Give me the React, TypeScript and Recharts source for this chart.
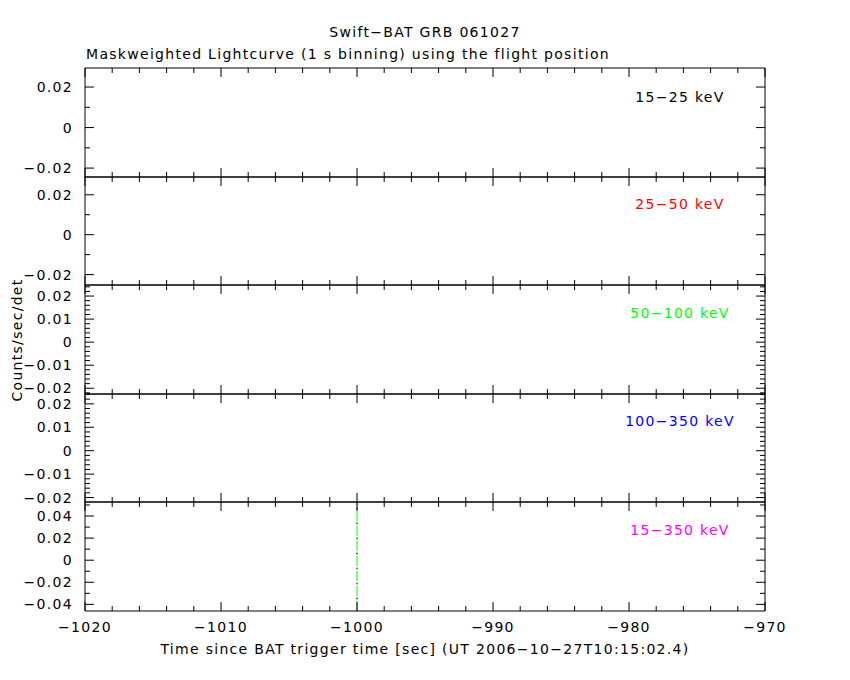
import React from "react";
import { LineChart, Line, XAxis, YAxis, ReferenceLine } from "recharts";

// ---- data ----
const title = "Swift\u2212BAT GRB 061027";
const subtitle = "Maskweighted Lightcurve (1 s binning) using the flight position";
const xTitle = "Time since BAT trigger time [sec] (UT 2006\u221210\u221227T10:15:02.4)";
const yTitle = "Counts/sec/det";

const xDomain = [-1020, -970];
const xMajorTicks = [-1020, -1010, -1000, -990, -980, -970];
const xMinorTicks = [
  -1018, -1016, -1014, -1012, -1008, -1006, -1004, -1002, -998, -996, -994, -992,
  -988, -986, -984, -982, -978, -976, -974, -972,
];
const triggerMarker = -1000;

// time span covered by each light curve; no rate samples are visible in the reference
const timeSpan = [-1020, -970];
const band1Rates: (number | null)[] = [null, null];
const band2Rates: (number | null)[] = [null, null];
const band3Rates: (number | null)[] = [null, null];
const band4Rates: (number | null)[] = [null, null];
const band5Rates: (number | null)[] = [null, null];

const bandLabels = ["15\u221225 keV", "25\u221250 keV", "50\u2212100 keV", "100\u2212350 keV", "15\u2212350 keV"];
const bandColors = ["#000000", "#ff0000", "#00ff00", "#0000ff", "#ff00ff"];

const yDomains = [
  [-0.0244, 0.0294],
  [-0.0252, 0.0289],
  [-0.0225, 0.0248],
  [-0.0219, 0.0242],
  [-0.046, 0.0527],
];
const yMajorTicks = [
  [-0.02, 0, 0.02],
  [-0.02, 0, 0.02],
  [-0.02, -0.01, 0, 0.01, 0.02],
  [-0.02, -0.01, 0, 0.01, 0.02],
  [-0.04, -0.02, 0, 0.02, 0.04],
];
const yMinorTicks = [
  [-0.01, 0.01],
  [-0.01, 0.01],
  [-0.022, -0.018, -0.016, -0.014, -0.012, -0.008, -0.006, -0.004, -0.002, 0.002, 0.004, 0.006, 0.008, 0.012, 0.014, 0.016, 0.018, 0.022, 0.024],
  [-0.018, -0.016, -0.014, -0.012, -0.008, -0.006, -0.004, -0.002, 0.002, 0.004, 0.006, 0.008, 0.012, 0.014, 0.016, 0.018, 0.022, 0.024],
  [-0.03, -0.01, 0.01, 0.03, 0.05],
];

// ---- layout ----
const W = 850;
const H = 680;
const PLOT_LEFT = 85;
const PLOT_RIGHT = 765;
const panelEdges = [68, 177, 285, 394, 502, 611];
const FONT = "'DejaVu Sans', sans-serif";
const FS = 14;
const LS = 1.3;

const isIn = (arr: number[], v: number) => arr.some((a) => Math.abs(a - v) < 1e-9);
const fmt = (v: number) => {
  if (Math.abs(v) < 1e-12) return "0";
  const s = String(Math.round(Math.abs(v) * 1e6) / 1e6);
  return (v < 0 ? "\u2212" : "") + s;
};

const MAJ = 9;
const MIN = 5;

function makeTick(kind: "left" | "right" | "top" | "bottom", majors: number[], labels: boolean) {
  return (props: any) => {
    const { x, y, payload } = props;
    const v = payload.value;
    const major = isIn(majors, v);
    const len = major ? MAJ : MIN;
    let line;
    let text = null;
    if (kind === "left") {
      line = <line x1={x} x2={x + len} y1={y} y2={y} stroke="#000" strokeWidth={1} />;
      if (major && labels)
        text = (
          <text x={x - 12} y={y} dy="0.36em" textAnchor="end" fontFamily={FONT} fontSize={FS} letterSpacing={LS} fill="#000">
            {fmt(v)}
          </text>
        );
    } else if (kind === "right") {
      line = <line x1={x} x2={x - len} y1={y} y2={y} stroke="#000" strokeWidth={1} />;
    } else if (kind === "top") {
      line = <line x1={x} x2={x} y1={y} y2={y + len} stroke="#000" strokeWidth={1} />;
    } else {
      line = <line x1={x} x2={x} y1={y} y2={y - len} stroke="#000" strokeWidth={1} />;
      if (major && labels)
        text = (
          <text x={x} y={y + 16} dy="0.36em" textAnchor="middle" fontFamily={FONT} fontSize={FS} letterSpacing={LS} fill="#000">
            {fmt(v)}
          </text>
        );
    }
    return (
      <g>
        {line}
        {text}
      </g>
    );
  };
}

const allX = [...xMajorTicks, ...xMinorTicks].sort((a, b) => a - b);
const bandRates = [band1Rates, band2Rates, band3Rates, band4Rates, band5Rates];
const bandData = bandRates.map((rates) => timeSpan.map((t, k) => ({ t, rate: rates[k] })));

function Panel({ i }: { i: number }) {
  const top = panelEdges[i];
  const bottom = panelEdges[i + 1];
  const h = bottom - top;
  const last = i === 4;
  const padTop = 5;
  const padBottom = last ? 40 : 5;
  const yTicks = [...yMajorTicks[i], ...yMinorTicks[i]].sort((a, b) => a - b);
  return (
    <div style={{ position: "absolute", left: 0, top: top - padTop }}>
      <LineChart
        width={W}
        height={h + padTop + padBottom}
        data={bandData[i]}
        margin={{ top: padTop - 1, bottom: padBottom - 1, left: PLOT_LEFT - 1, right: W - PLOT_RIGHT - 1 }}
      >
        <XAxis
          xAxisId="b"
          dataKey="t"
          type="number"
          domain={xDomain}
          allowDataOverflow
          ticks={allX}
          interval={0}
          height={1}
          tickSize={0}
          tickMargin={0}
          axisLine={{ stroke: "#000", strokeWidth: 1 }}
          tickLine={false}
          tick={makeTick("bottom", xMajorTicks, last)}
          orientation="bottom"
        />
        <XAxis
          xAxisId="t"
          dataKey="t"
          type="number"
          domain={xDomain}
          allowDataOverflow
          ticks={allX}
          interval={0}
          height={1}
          tickSize={0}
          tickMargin={0}
          axisLine={{ stroke: "#000", strokeWidth: 1 }}
          tickLine={false}
          tick={makeTick("top", xMajorTicks, false)}
          orientation="top"
        />
        <YAxis
          yAxisId="l"
          type="number"
          domain={yDomains[i]}
          allowDataOverflow
          ticks={yTicks}
          interval={0}
          width={1}
          tickSize={0}
          tickMargin={0}
          axisLine={{ stroke: "#000", strokeWidth: 1 }}
          tickLine={false}
          tick={makeTick("left", yMajorTicks[i], true)}
          orientation="left"
        />
        <YAxis
          yAxisId="r"
          type="number"
          domain={yDomains[i]}
          allowDataOverflow
          ticks={yTicks}
          interval={0}
          width={1}
          tickSize={0}
          tickMargin={0}
          axisLine={{ stroke: "#000", strokeWidth: 1 }}
          tickLine={false}
          tick={makeTick("right", yMajorTicks[i], false)}
          orientation="right"
        />
        <Line
          xAxisId="b"
          yAxisId="l"
          dataKey="rate"
          type="stepAfter"
          stroke={bandColors[i]}
          dot={false}
          isAnimationActive={false}
        />
        {last && (
          <ReferenceLine
            xAxisId="b"
            yAxisId="l"
            x={triggerMarker}
            stroke="#00ff00"
            strokeWidth={1}
            strokeDasharray="10 5"
          />
        )}
        {last && (
          <ReferenceLine
            xAxisId="b"
            yAxisId="l"
            x={triggerMarker}
            stroke="#000000"
            strokeWidth={1}
            strokeDasharray="2 13"
            strokeDashoffset={-11.5}
          />
        )}
      </LineChart>
    </div>
  );
}

export default function App() {
  const bandLabelY = [97, 204, 313, 421, 530];
  const common = { fontFamily: FONT, fontSize: FS, letterSpacing: LS, dy: "0.36em" };
  return (
    <div style={{ position: "absolute", left: 0, top: 0, width: W, height: H, background: "#fff" }}>
      {[0, 1, 2, 3, 4].map((i) => (
        <Panel key={i} i={i} />
      ))}
      <svg
        width={W}
        height={H}
        style={{ position: "absolute", left: 0, top: 0, pointerEvents: "none" }}
      >
        <text x={425} y={32} textAnchor="middle" fill="#000" {...common}>
          {title}
        </text>
        <text x={86} y={54} textAnchor="start" fill="#000" {...common}>
          {subtitle}
        </text>
        <text x={425} y={649} textAnchor="middle" fill="#000" {...common}>
          {xTitle}
        </text>
        <text x={17} y={340} textAnchor="middle" fill="#000" transform="rotate(-90 17 340)" {...common}>
          {yTitle}
        </text>
        {bandLabels.map((lab, i) => (
          <text key={lab} x={680} y={bandLabelY[i]} textAnchor="middle" fill={bandColors[i]} {...common}>
            {lab}
          </text>
        ))}
      </svg>
    </div>
  );
}
